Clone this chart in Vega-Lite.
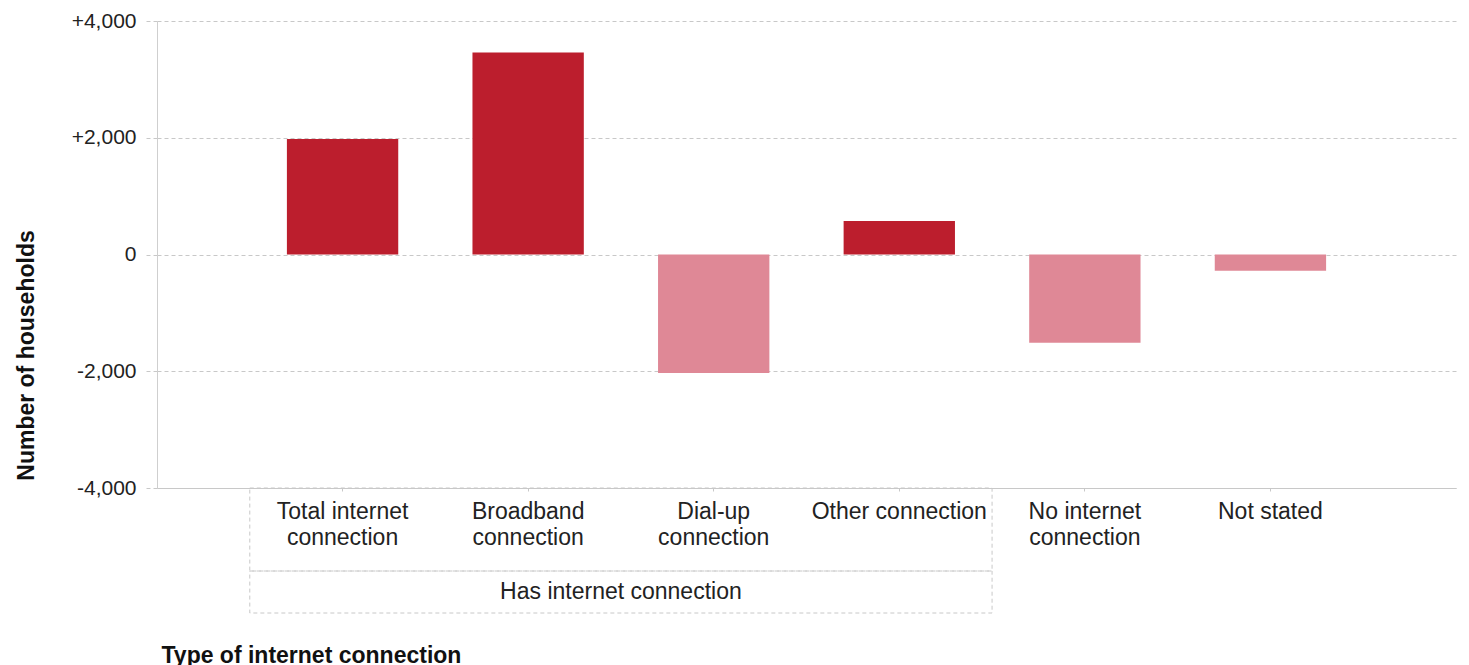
{
  "$schema": "https://vega.github.io/schema/vega-lite/v6.json",
  "bounds": "flush",
  "spacing": 0,
  "padding": {"left": 15, "top": 10, "right": 5, "bottom": 0},
  "background": "white",
  "config": {"font": "Liberation Sans", "view": {"stroke": null}},
  "datasets": {
    "changes": [
      {"connection": "Total internet connection", "change": 1980},
      {"connection": "Broadband connection", "change": 3460},
      {"connection": "Dial-up connection", "change": -2030},
      {"connection": "Other connection", "change": 575},
      {"connection": "No internet connection", "change": -1510},
      {"connection": "Not stated", "change": -280}
    ],
    "groups": [
      {"group": "Has internet connection", "first": "Total internet connection", "last": "Other connection"}
    ]
  },
  "vconcat": [
    {
      "width": 1299,
      "height": 467,
      "data": {"name": "changes"},
      "mark": {"type": "bar", "width": {"band": 0.6}},
      "encoding": {
        "x": {
          "field": "connection",
          "type": "nominal",
          "sort": null,
          "scale": {
            "domain": ["Total internet connection", "Broadband connection", "Dial-up connection", "Other connection", "No internet connection", "Not stated"],
            "paddingInner": 0,
            "paddingOuter": 0.5
          },
          "axis": {
            "title": null,
            "labelExpr": "length(datum.value) > 16 ? [slice(datum.value, 0, lastindexof(datum.value, ' ')), slice(datum.value, lastindexof(datum.value, ' ') + 1)] : datum.value",
            "labelFontSize": 23,
            "labelColor": "#222222",
            "labelLineHeight": 26,
            "labelPadding": 9,
            "labelLimit": 0,
            "labelAngle": 0,
            "labelOverlap": false,
            "labelBaseline": "top",
            "tickSize": 3,
            "tickColor": "#c8c8c8",
            "domainColor": "#c8c8c8",
            "grid": false
          }
        },
        "y": {
          "field": "change",
          "type": "quantitative",
          "scale": {"domain": [-4000, 4000], "nice": false},
          "axis": {
            "title": "Number of households",
            "values": [-4000, -2000, 0, 2000, 4000],
            "labelExpr": "datum.value > 0 ? '+' + format(datum.value, ',') : (datum.value < 0 ? '-' + format(-datum.value, ',') : '0')",
            "labelFontSize": 21,
            "labelColor": "#222222",
            "labelPadding": 9,
            "tickSize": 12,
            "tickColor": "#c8c8c8",
            "tickDash": [4, 3],
            "domainColor": "#cfcfcf",
            "grid": true,
            "gridColor": "#c8c8c8",
            "gridDash": [4, 3],
            "titleFontSize": 23,
            "titleFontWeight": "bold",
            "titleColor": "#111111",
            "titlePadding": 33,
            "titleY": 334
          }
        },
        "color": {"condition": {"test": "datum.change < 0", "value": "#DF8896"}, "value": "#BC1E2D"}
      }
    },
    {
      "width": 1299,
      "height": 83,
      "data": {"name": "groups"},
      "mark": {"type": "rect", "filled": false, "color": "#c8c8c8", "strokeDash": [4, 3], "strokeWidth": 1},
      "encoding": {
        "x": {
          "field": "first",
          "type": "nominal",
          "bandPosition": 0,
          "scale": {
            "domain": ["Total internet connection", "Broadband connection", "Dial-up connection", "Other connection", "No internet connection", "Not stated"],
            "paddingInner": 0,
            "paddingOuter": 0.5
          },
          "axis": null
        },
        "x2": {"field": "last", "bandPosition": 1}
      }
    },
    {
      "width": 1299,
      "height": 42,
      "data": {"name": "groups"},
      "layer": [
        {
          "mark": {"type": "rect", "filled": false, "color": "#c8c8c8", "strokeDash": [4, 3], "strokeWidth": 1},
          "encoding": {
            "x": {
              "field": "first",
              "type": "nominal",
              "bandPosition": 0,
              "scale": {
                "domain": ["Total internet connection", "Broadband connection", "Dial-up connection", "Other connection", "No internet connection", "Not stated"],
                "paddingInner": 0,
                "paddingOuter": 0.5
              },
              "axis": {
                "title": "Type of internet connection",
                "domain": false,
                "ticks": false,
                "labels": false,
                "grid": false,
                "titleFontSize": 23,
                "titleFontWeight": "bold",
                "titleColor": "#111111",
                "titleAnchor": "start",
                "titleAlign": "left",
                "titleX": 4,
                "titlePadding": 31
              }
            },
            "x2": {"field": "last", "bandPosition": 1}
          }
        },
        {
          "mark": {"type": "text", "fontSize": 23, "fill": "#222222", "baseline": "middle"},
          "encoding": {
            "x": {
              "field": "first",
              "type": "nominal",
              "bandPosition": 2
            },
            "text": {"field": "group"}
          }
        }
      ]
    }
  ]
}
